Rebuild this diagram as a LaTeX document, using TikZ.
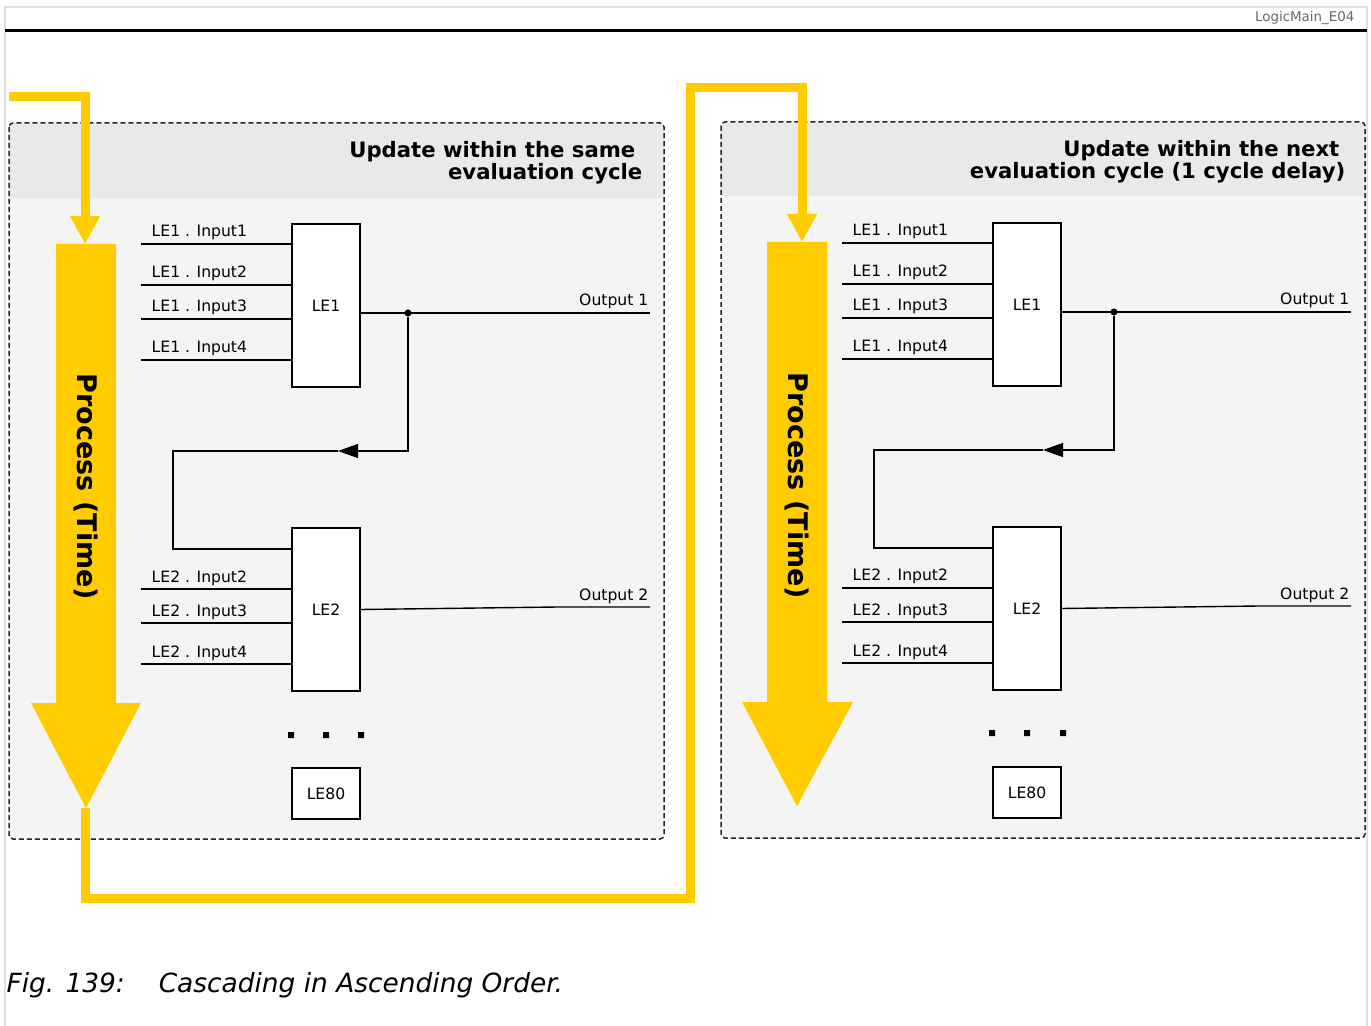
\documentclass[tikz,border=0pt]{standalone}
\usepackage{fontspec}
\setmainfont{DejaVu Sans}
\usetikzlibrary{positioning,arrows.meta,calc}
\definecolor{yel}{HTML}{FFCC00}
\definecolor{panelbg}{HTML}{F4F4F4}
\definecolor{headbg}{HTML}{E9E9E9}

\begin{document}
\begin{tikzpicture}[x=0.5pt, y=-0.5pt, line width=0.7pt,
  font=\fontsize{7.8}{9}\selectfont,
  lebox/.style={draw, fill=white, minimum width=34pt, minimum height=81.5pt, inner sep=0pt},
  lbl/.style={anchor=base west, inner sep=0pt},
  outlbl/.style={anchor=base east, inner sep=0pt},
  ttl/.style={anchor=north east, align=right, inner sep=0pt,
    font=\fontsize{10.6}{11}\selectfont\bfseries},
  proc/.style={rotate=-90, inner sep=0pt, font=\fontsize{13.5}{15}\selectfont\bfseries},
  jdot/.style={circle, fill, inner sep=0pt, minimum size=3.5pt},
  yline/.style={draw=yel, line width=4.5pt, -{Triangle[length=14pt, width=14pt]}},
  fb/.style={-{Triangle[length=10pt, width=7pt]}},
  frame/.style={draw=black!85, line width=0.75pt, dash pattern=on 2.5pt off 1.5pt, rounded corners=2pt}]
  \useasboundingbox (0,0) rectangle (1371,1026);

  % page frame
  \draw[black!12, line width=0.75pt] (5,1026) -- (5,7) -- (1367,7) -- (1367,1026);
  \draw[line width=1.5pt] (5,31) -- (1367,31);
  \node[outlbl, text=black!60, font=\fontsize{6.7}{8}\selectfont] (tag) at (1355,22) {LogicMain\_E04};

  % left panel
  \fill[panelbg] (9,123) rectangle (664,839);
  \fill[headbg] (9,198) [rounded corners=2pt] -- (9,123) -- (664,123) [sharp corners] -- (664,198) -- cycle;
  \draw[frame] (9,123) rectangle (664,839);
  \node[ttl] (ttl) at (643,141) {Update within the same\hspace*{3.5pt}\\evaluation cycle};

  \fill[yel] (56,244) -- (116,244) -- (116,703) -- (141,703) -- (86,808) -- (31,703) -- (56,703) -- cycle;
  \node[proc] (proc) at (86,487) {Process (Time)};

  \node[lebox] (le1) at (326,305.5) {LE1};
  \node[lebox] (le2) at (326,609.5) {LE2};
  \node[lebox, minimum height=25.5pt] (le80) at (326,793.5) {LE80};

  \coordinate (i11) at (141,244);
  \coordinate (i12) at (141,285);
  \coordinate (i13) at (141,319);
  \coordinate (i14) at (141,360);
  \draw (i11) -- (i11 -| le1.west);
  \draw (i12) -- (i12 -| le1.west);
  \draw (i13) -- (i13 -| le1.west);
  \draw (i14) -- (i14 -| le1.west);
  \node[lbl] (t11) at (151,237) {LE1 . Input1};
  \node[lbl] (t12) at (151,278) {LE1 . Input2};
  \node[lbl] (t13) at (151,312) {LE1 . Input3};
  \node[lbl] (t14) at (151,353) {LE1 . Input4};

  \node[jdot] (j1) at (408,313) {};
  \coordinate (o1) at (650,313);
  \draw (le1.east |- o1) -- (o1);
  \node[outlbl] (t1o) at (649,306) {Output 1};

  \coordinate (m1) at (338,451);
  \coordinate (c1) at (173,451);
  \coordinate (c2) at (173,549);
  \draw[fb] (j1) |- (m1);
  \draw (m1) -- (c1) -- (c2) -- (c2 -| le2.west);

  \coordinate (i22) at (141,589);
  \coordinate (i23) at (141,623);
  \coordinate (i24) at (141,664);
  \draw (i22) -- (i22 -| le2.west);
  \draw (i23) -- (i23 -| le2.west);
  \draw (i24) -- (i24 -| le2.west);
  \node[lbl] (t22) at (151,582) {LE2 . Input2};
  \node[lbl] (t23) at (151,616) {LE2 . Input3};
  \node[lbl] (t24) at (151,657) {LE2 . Input4};

  \coordinate (o2) at (650,607);
  \draw (le2.east) -- (558,607) -- (o2);
  \node[outlbl] (t2o) at (649,600) {Output 2};

  \fill (288,732) rectangle ++(6,6) (323,732) rectangle ++(6,6) (358,732) rectangle ++(6,6);

  % right panel
  \fill[panelbg] (721,122) rectangle (1365,838);
  \fill[headbg] (721,196) [rounded corners=2pt] -- (721,122) -- (1365,122) [sharp corners] -- (1365,196) -- cycle;
  \draw[frame] (721,122) rectangle (1365,838);
  \node[ttl] (ttlr) at (1346,140) {Update within the next\hspace*{3pt}\\evaluation cycle (1 cycle delay)};

  \fill[yel] (767,242) -- (827,242) -- (827,702) -- (853,702) -- (797,806) -- (742,702) -- (767,702) -- cycle;
  \node[proc] (procr) at (797,486) {Process (Time)};

  \node[lebox] (le1r) at (1027,304.5) {LE1};
  \node[lebox] (le2r) at (1027,608.5) {LE2};
  \node[lebox, minimum height=25.5pt] (le80r) at (1027,792.5) {LE80};

  \coordinate (i11r) at (842,243);
  \coordinate (i12r) at (842,284);
  \coordinate (i13r) at (842,318);
  \coordinate (i14r) at (842,359);
  \draw (i11r) -- (i11r -| le1r.west);
  \draw (i12r) -- (i12r -| le1r.west);
  \draw (i13r) -- (i13r -| le1r.west);
  \draw (i14r) -- (i14r -| le1r.west);
  \node[lbl] (t11r) at (852,236) {LE1 . Input1};
  \node[lbl] (t12r) at (852,277) {LE1 . Input2};
  \node[lbl] (t13r) at (852,311) {LE1 . Input3};
  \node[lbl] (t14r) at (852,352) {LE1 . Input4};

  \node[jdot] (j1r) at (1114,312) {};
  \coordinate (o1r) at (1351,312);
  \draw (le1r.east |- o1r) -- (o1r);
  \node[outlbl] (t1or) at (1350,305) {Output 1};

  \coordinate (m1r) at (1043,450);
  \coordinate (c1r) at (874,450);
  \coordinate (c2r) at (874,548);
  \draw[fb] (j1r) |- (m1r);
  \draw (m1r) -- (c1r) -- (c2r) -- (c2r -| le2r.west);

  \coordinate (i22r) at (842,588);
  \coordinate (i23r) at (842,622);
  \coordinate (i24r) at (842,663);
  \draw (i22r) -- (i22r -| le2r.west);
  \draw (i23r) -- (i23r -| le2r.west);
  \draw (i24r) -- (i24r -| le2r.west);
  \node[lbl] (t22r) at (852,581) {LE2 . Input2};
  \node[lbl] (t23r) at (852,615) {LE2 . Input3};
  \node[lbl] (t24r) at (852,656) {LE2 . Input4};

  \coordinate (o2r) at (1351,606);
  \draw (le2r.east) -- (1259,606) -- (o2r);
  \node[outlbl] (t2or) at (1350,599) {Output 2};

  \fill (989,730) rectangle ++(6,6) (1024,730) rectangle ++(6,6) (1060,730) rectangle ++(6,6);

  % process loop
  \coordinate (ya) at (9,97);
  \coordinate (yb) at (85,244);
  \coordinate (yc) at (85,808);
  \coordinate (yd) at (802,242);
  \draw[yline] (ya) -| (yb);
  \draw[yline] (yc) |- (690,898) |- (802,88) -- (yd);

  \node[anchor=base west, inner sep=0pt, font=\fontsize{13.2}{15}\selectfont\itshape] (cap) at (6,992)
    {Fig. 139:\hspace{17pt}Cascading in Ascending Order.};
\end{tikzpicture}
\end{document}
